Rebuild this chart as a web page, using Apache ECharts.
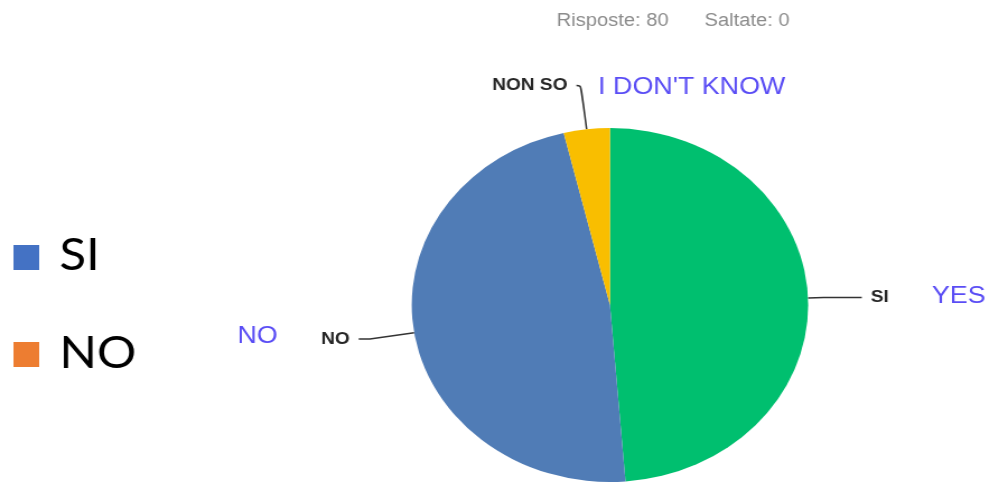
<!DOCTYPE html>
<html>
<head>
<meta charset="utf-8">
<script src="https://cdn.jsdelivr.net/npm/echarts@6.0.0/dist/echarts.min.js"></script>
<style>
  html, body { margin: 0; padding: 0; background: #fff; overflow: hidden; }
  #chart { width: 883px; height: 483px; transform: scaleX(1.12); transform-origin: 0 0; }
</style>
</head>
<body>
<div id="chart"></div>
<script>
// Data
const categories = ['SI', 'NO', 'NON SO'];
const values = [39, 38, 3];
const sliceColors = ['#00BF6F', '#507CB6', '#F9BE00'];
const translations = ['YES', 'NO', "I DON'T KNOW"];
const summaryTexts = ['Risposte: 80', 'Saltate: 0'];
const legendNames = ['SI', 'NO'];
const legendColors = ['#4472C4', '#ED7D31'];

const lineLengths = [[14, 34], [40, 10], [44, 4]];

const chart = echarts.init(document.getElementById('chart'));

const pieData = categories.map((c, i) => ({
  name: c,
  value: values[i],
  itemStyle: { color: sliceColors[i] },
  labelLine: { length: lineLengths[i][0], length2: lineLengths[i][1], smooth: i === 2 ? 0.4 : false }
}));

const graphics = [];
// summary text at top
graphics.push({ type: 'text', left: 497, top: 12, style: { text: summaryTexts[0], fill: '#8c8c8c', font: '18px "Liberation Sans", Arial, sans-serif' } });
graphics.push({ type: 'text', left: 629, top: 12, style: { text: summaryTexts[1], fill: '#8c8c8c', font: '18px "Liberation Sans", Arial, sans-serif' } });
// translation annotations
const annPos = [[832, 284], [212, 324], [534, 75]];
translations.forEach((t, i) => {
  graphics.push({ type: 'text', left: annPos[i][0], top: annPos[i][1], style: { text: t, fill: '#5a4df5', font: '24px "Liberation Sans", Arial, sans-serif' } });
});
// external legend
const legY = [245, 342];
const legTextTop = [234, 332];
legendNames.forEach((n, i) => {
  graphics.push({ type: 'rect', shape: { x: 12, y: legY[i], width: 23, height: 25 }, style: { fill: legendColors[i] } });
  graphics.push({ type: 'text', left: 53, top: legTextTop[i], style: { text: n, fill: '#000', font: '44px Lato, "Open Sans", sans-serif' } });
});

chart.setOption({
  backgroundColor: '#ffffff',
  animation: false,
  graphic: graphics,
  series: [{
    type: 'pie',
    center: [544.6, 305],
    radius: [0, 177],
    startAngle: 90,
    clockwise: true,
    avoidLabelOverlap: false,
    data: pieData,
    itemStyle: { borderWidth: 0 },
    label: {
      show: true,
      position: 'outside',
      formatter: '{b}',
      color: '#262626',
      fontWeight: 'bold',
      fontSize: 17,
      fontFamily: '"Liberation Sans", Arial, sans-serif',
      distanceToLabelLine: 8
    },
    labelLine: { show: true, lineStyle: { color: '#333', width: 1.5 } }
  }]
});
</script>
</body>
</html>
